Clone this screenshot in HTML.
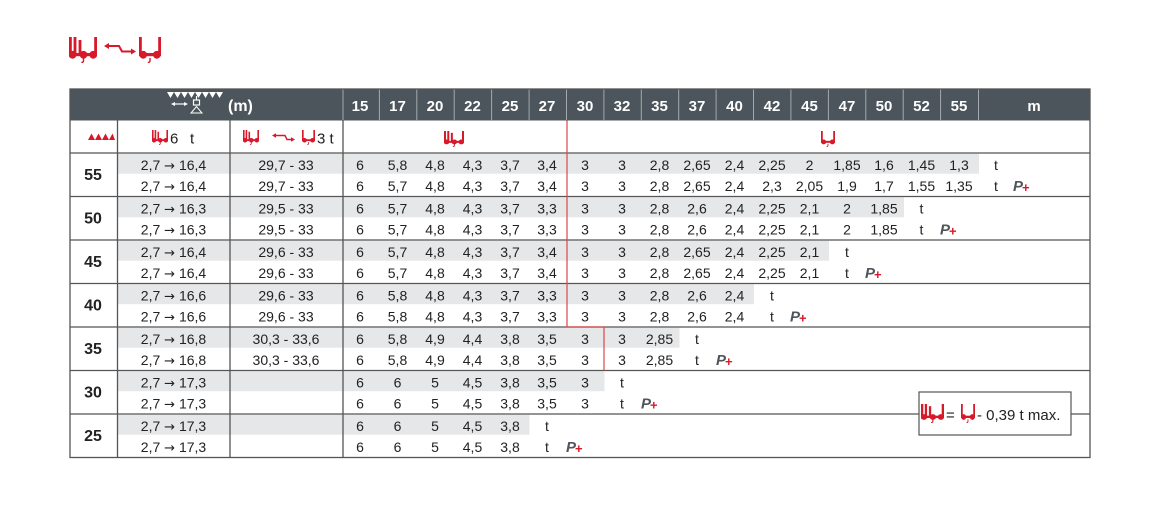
<!DOCTYPE html>
<html><head><meta charset="utf-8"><style>
html,body{margin:0;padding:0;background:#fff;}
svg{display:block;font-family:"Liberation Sans",Arial,sans-serif;}
</style></head><body>
<svg width="1171" height="523" viewBox="0 0 1171 523" xmlns="http://www.w3.org/2000/svg">
<defs>
<symbol id="dbl" viewBox="0 0 28 26" preserveAspectRatio="none">
<g fill="#d7192a">
<rect x="0" y="0" width="2.8" height="19"/>
<rect x="4.6" y="0" width="2.8" height="19"/>
<rect x="9.6" y="3" width="2.8" height="16"/>
<rect x="25.2" y="0" width="2.8" height="19"/>
<rect x="0" y="16" width="28" height="3.2"/>
<circle cx="3.6" cy="17.8" r="3.9"/>
<circle cx="14.5" cy="17.8" r="3.9"/>
<circle cx="24.2" cy="17.8" r="3.9"/>
</g>
<path d="M14.5 21 v2.5 q0 2 -2.2 2" fill="none" stroke="#d7192a" stroke-width="1.4"/>
</symbol>
<symbol id="sgl" viewBox="0 0 22 26" preserveAspectRatio="none">
<g fill="#d7192a">
<rect x="0" y="0" width="2.8" height="19"/>
<rect x="19.2" y="0" width="2.8" height="19"/>
<rect x="0" y="16" width="22" height="3.2"/>
<circle cx="4.2" cy="17.8" r="3.9"/>
<circle cx="17.8" cy="17.8" r="3.9"/>
</g>
<path d="M11 21 v2.5 q0 2 -2.2 2" fill="none" stroke="#d7192a" stroke-width="1.4"/>
</symbol>
</defs>

<!-- top icon -->
<use href="#dbl" x="69" y="37" width="28" height="26"/>
<path d="M108 46 H119 L122 51.5 H132" stroke="#d7192a" stroke-width="2" fill="none"/>
<polygon points="104,46 109,43 109,49" fill="#d7192a"/>
<polygon points="136,51.5 131,48.5 131,54.5" fill="#d7192a"/>
<use href="#sgl" x="139" y="37" width="22" height="26"/>

<!-- header row -->
<rect x="70" y="89" width="1020" height="31.5" fill="#4b555b"/>
<g stroke="#a3a9ad" stroke-width="1">
<line x1="343" y1="89" x2="343" y2="120"/>
<line x1="379.4" y1="89" x2="379.4" y2="120"/>
<line x1="416.8" y1="89" x2="416.8" y2="120"/>
<line x1="454.2" y1="89" x2="454.2" y2="120"/>
<line x1="491.6" y1="89" x2="491.6" y2="120"/>
<line x1="529.1" y1="89" x2="529.1" y2="120"/>
<line x1="566.5" y1="89" x2="566.5" y2="120"/>
<line x1="603.9" y1="89" x2="603.9" y2="120"/>
<line x1="641.3" y1="89" x2="641.3" y2="120"/>
<line x1="678.7" y1="89" x2="678.7" y2="120"/>
<line x1="716.1" y1="89" x2="716.1" y2="120"/>
<line x1="753.5" y1="89" x2="753.5" y2="120"/>
<line x1="790.9" y1="89" x2="790.9" y2="120"/>
<line x1="828.4" y1="89" x2="828.4" y2="120"/>
<line x1="865.8" y1="89" x2="865.8" y2="120"/>
<line x1="903.2" y1="89" x2="903.2" y2="120"/>
<line x1="940.6" y1="89" x2="940.6" y2="120"/>
<line x1="978.5" y1="89" x2="978.5" y2="120"/>
</g>
<!-- boom icon -->
<polygon points="167,92 223,92 219.5,98 216,92 212.5,98 209,92 205.5,98 202,92 198.5,98 195,92 191.5,98 188,92 184.5,98 181,92 177.5,98 174,92 170.5,98" fill="#fff"/>
<line x1="174" y1="104" x2="185" y2="104" stroke="#fff" stroke-width="1.2"/>
<polygon points="171,104 175,102 175,106" fill="#fff"/>
<polygon points="188,104 184,102 184,106" fill="#fff"/>
<line x1="196.5" y1="96" x2="196.5" y2="100" stroke="#fff" stroke-width="1.2"/>
<rect x="193.5" y="100" width="6" height="5" fill="none" stroke="#fff" stroke-width="1.2"/>
<polygon points="196.5,106.5 191,113 202,113" fill="none" stroke="#fff" stroke-width="1"/>
<text x="228" y="111" font-size="16" font-weight="bold" fill="#fff">(m)</text>
<g font-size="15" font-weight="bold" fill="#fff" text-anchor="middle">
<text y="111"><tspan x="360">15</tspan><tspan x="397.5">17</tspan><tspan x="435">20</tspan><tspan x="472.5">22</tspan><tspan x="510">25</tspan><tspan x="547">27</tspan><tspan x="585">30</tspan><tspan x="622">32</tspan><tspan x="659.5">35</tspan><tspan x="697">37</tspan><tspan x="734.5">40</tspan><tspan x="772">42</tspan><tspan x="809.5">45</tspan><tspan x="847">47</tspan><tspan x="884">50</tspan><tspan x="921.5">52</tspan><tspan x="959">55</tspan><tspan x="1034">m</tspan></text>
</g>

<!-- row 2 header -->
<polygon points="88,140 91.5,133.5 95,140 98.5,133.5 102,140 105.5,133.5 109,140 112.5,133.5 115,140" fill="#d7192a"/>
<use href="#dbl" x="152" y="130" width="16" height="15"/>
<text x="170" y="143.5" font-size="15" fill="#222">6</text>
<text x="190" y="143.5" font-size="15" fill="#222">t</text>
<use href="#dbl" x="243" y="130" width="16" height="15"/>
<path d="M275 135.5 H285 L287 139.5 H292" stroke="#d7192a" stroke-width="1.4" fill="none"/>
<polygon points="272,135.5 276,133.3 276,137.7" fill="#d7192a"/>
<polygon points="295,139.5 291,137.3 291,141.7" fill="#d7192a"/>
<use href="#sgl" x="302" y="130" width="13" height="15"/>
<text x="317" y="143.5" font-size="15" fill="#222">3 t</text>
<use href="#dbl" x="444" y="131" width="20" height="16"/>
<use href="#sgl" x="821" y="131" width="14" height="16"/>

<!-- gray bands -->
<g fill="#e6e7e8">
<rect x="118" y="153.7" width="861" height="20"/>
<rect x="118" y="197.2" width="786" height="20"/>
<rect x="118" y="240.7" width="711" height="20"/>
<rect x="118" y="284.2" width="636" height="20"/>
<rect x="118" y="327.7" width="561.5" height="20"/>
<rect x="118" y="371.2" width="486.5" height="20"/>
<rect x="118" y="414.7" width="411.5" height="20"/>
</g>

<!-- grid lines -->
<g stroke="#555" stroke-width="1.3">
<line x1="70" y1="153" x2="1090" y2="153"/>
<line x1="70" y1="196.5" x2="1090" y2="196.5"/>
<line x1="70" y1="240" x2="1090" y2="240"/>
<line x1="70" y1="283.5" x2="1090" y2="283.5"/>
<line x1="70" y1="327" x2="1090" y2="327"/>
<line x1="70" y1="370.5" x2="1090" y2="370.5"/>
<line x1="70" y1="414" x2="1090" y2="414"/>
<line x1="117.5" y1="120.5" x2="117.5" y2="457.5"/>
<line x1="230" y1="120.5" x2="230" y2="457.5"/>
<line x1="343" y1="120.5" x2="343" y2="457.5"/>
<rect x="70" y="89" width="1020" height="368.5" fill="none"/>
</g>

<!-- red boundary -->
<path d="M567 120.5 V327 H604 V370.5" fill="none" stroke="#d9484a" stroke-width="1.2"/>

<!-- group labels -->
<g font-size="16" font-weight="bold" fill="#222" text-anchor="middle">
<text x="93" y="180">55</text>
<text x="93" y="223.5">50</text>
<text x="93" y="267">45</text>
<text x="93" y="310.5">40</text>
<text x="93" y="354">35</text>
<text x="93" y="397.5">30</text>
<text x="93" y="441">25</text>
</g>

<g font-size="14" fill="#222" text-anchor="middle">
<!-- col 2 / col 3 -->
<text x="173.5" y="170">2,7 <tspan font-family="DejaVu Sans" font-size="13">→</tspan> 16,4</text><text x="286" y="170">29,7 - 33</text>
<text x="173.5" y="191">2,7 <tspan font-family="DejaVu Sans" font-size="13">→</tspan> 16,4</text><text x="286" y="191">29,7 - 33</text>
<text x="173.5" y="213.5">2,7 <tspan font-family="DejaVu Sans" font-size="13">→</tspan> 16,3</text><text x="286" y="213.5">29,5 - 33</text>
<text x="173.5" y="234.5">2,7 <tspan font-family="DejaVu Sans" font-size="13">→</tspan> 16,3</text><text x="286" y="234.5">29,5 - 33</text>
<text x="173.5" y="257">2,7 <tspan font-family="DejaVu Sans" font-size="13">→</tspan> 16,4</text><text x="286" y="257">29,6 - 33</text>
<text x="173.5" y="278">2,7 <tspan font-family="DejaVu Sans" font-size="13">→</tspan> 16,4</text><text x="286" y="278">29,6 - 33</text>
<text x="173.5" y="300.5">2,7 <tspan font-family="DejaVu Sans" font-size="13">→</tspan> 16,6</text><text x="286" y="300.5">29,6 - 33</text>
<text x="173.5" y="321.5">2,7 <tspan font-family="DejaVu Sans" font-size="13">→</tspan> 16,6</text><text x="286" y="321.5">29,6 - 33</text>
<text x="173.5" y="344">2,7 <tspan font-family="DejaVu Sans" font-size="13">→</tspan> 16,8</text><text x="286" y="344">30,3 - 33,6</text>
<text x="173.5" y="365">2,7 <tspan font-family="DejaVu Sans" font-size="13">→</tspan> 16,8</text><text x="286" y="365">30,3 - 33,6</text>
<text x="173.5" y="387.5">2,7 <tspan font-family="DejaVu Sans" font-size="13">→</tspan> 17,3</text>
<text x="173.5" y="408.5">2,7 <tspan font-family="DejaVu Sans" font-size="13">→</tspan> 17,3</text>
<text x="173.5" y="431">2,7 <tspan font-family="DejaVu Sans" font-size="13">→</tspan> 17,3</text>
<text x="173.5" y="452">2,7 <tspan font-family="DejaVu Sans" font-size="13">→</tspan> 17,3</text>

<!-- 55 -->
<text y="170"><tspan x="360">6</tspan><tspan x="397.5">5,8</tspan><tspan x="435">4,8</tspan><tspan x="472.5">4,3</tspan><tspan x="510">3,7</tspan><tspan x="547">3,4</tspan><tspan x="585">3</tspan><tspan x="622">3</tspan><tspan x="659.5">2,8</tspan><tspan x="697">2,65</tspan><tspan x="734.5">2,4</tspan><tspan x="772">2,25</tspan><tspan x="809.5">2</tspan><tspan x="847">1,85</tspan><tspan x="884">1,6</tspan><tspan x="921.5">1,45</tspan><tspan x="959">1,3</tspan><tspan x="996">t</tspan></text>
<text y="191"><tspan x="360">6</tspan><tspan x="397.5">5,7</tspan><tspan x="435">4,8</tspan><tspan x="472.5">4,3</tspan><tspan x="510">3,7</tspan><tspan x="547">3,4</tspan><tspan x="585">3</tspan><tspan x="622">3</tspan><tspan x="659.5">2,8</tspan><tspan x="697">2,65</tspan><tspan x="734.5">2,4</tspan><tspan x="772">2,3</tspan><tspan x="809.5">2,05</tspan><tspan x="847">1,9</tspan><tspan x="884">1,7</tspan><tspan x="921.5">1,55</tspan><tspan x="959">1,35</tspan><tspan x="996">t</tspan></text>
<!-- 50 -->
<text y="213.5"><tspan x="360">6</tspan><tspan x="397.5">5,7</tspan><tspan x="435">4,8</tspan><tspan x="472.5">4,3</tspan><tspan x="510">3,7</tspan><tspan x="547">3,3</tspan><tspan x="585">3</tspan><tspan x="622">3</tspan><tspan x="659.5">2,8</tspan><tspan x="697">2,6</tspan><tspan x="734.5">2,4</tspan><tspan x="772">2,25</tspan><tspan x="809.5">2,1</tspan><tspan x="847">2</tspan><tspan x="884">1,85</tspan><tspan x="921.5">t</tspan></text>
<text y="234.5"><tspan x="360">6</tspan><tspan x="397.5">5,7</tspan><tspan x="435">4,8</tspan><tspan x="472.5">4,3</tspan><tspan x="510">3,7</tspan><tspan x="547">3,3</tspan><tspan x="585">3</tspan><tspan x="622">3</tspan><tspan x="659.5">2,8</tspan><tspan x="697">2,6</tspan><tspan x="734.5">2,4</tspan><tspan x="772">2,25</tspan><tspan x="809.5">2,1</tspan><tspan x="847">2</tspan><tspan x="884">1,85</tspan><tspan x="921.5">t</tspan></text>
<!-- 45 -->
<text y="257"><tspan x="360">6</tspan><tspan x="397.5">5,7</tspan><tspan x="435">4,8</tspan><tspan x="472.5">4,3</tspan><tspan x="510">3,7</tspan><tspan x="547">3,4</tspan><tspan x="585">3</tspan><tspan x="622">3</tspan><tspan x="659.5">2,8</tspan><tspan x="697">2,65</tspan><tspan x="734.5">2,4</tspan><tspan x="772">2,25</tspan><tspan x="809.5">2,1</tspan><tspan x="847">t</tspan></text>
<text y="278"><tspan x="360">6</tspan><tspan x="397.5">5,7</tspan><tspan x="435">4,8</tspan><tspan x="472.5">4,3</tspan><tspan x="510">3,7</tspan><tspan x="547">3,4</tspan><tspan x="585">3</tspan><tspan x="622">3</tspan><tspan x="659.5">2,8</tspan><tspan x="697">2,65</tspan><tspan x="734.5">2,4</tspan><tspan x="772">2,25</tspan><tspan x="809.5">2,1</tspan><tspan x="847">t</tspan></text>
<!-- 40 -->
<text y="300.5"><tspan x="360">6</tspan><tspan x="397.5">5,8</tspan><tspan x="435">4,8</tspan><tspan x="472.5">4,3</tspan><tspan x="510">3,7</tspan><tspan x="547">3,3</tspan><tspan x="585">3</tspan><tspan x="622">3</tspan><tspan x="659.5">2,8</tspan><tspan x="697">2,6</tspan><tspan x="734.5">2,4</tspan><tspan x="772">t</tspan></text>
<text y="321.5"><tspan x="360">6</tspan><tspan x="397.5">5,8</tspan><tspan x="435">4,8</tspan><tspan x="472.5">4,3</tspan><tspan x="510">3,7</tspan><tspan x="547">3,3</tspan><tspan x="585">3</tspan><tspan x="622">3</tspan><tspan x="659.5">2,8</tspan><tspan x="697">2,6</tspan><tspan x="734.5">2,4</tspan><tspan x="772">t</tspan></text>
<!-- 35 -->
<text y="344"><tspan x="360">6</tspan><tspan x="397.5">5,8</tspan><tspan x="435">4,9</tspan><tspan x="472.5">4,4</tspan><tspan x="510">3,8</tspan><tspan x="547">3,5</tspan><tspan x="585">3</tspan><tspan x="622">3</tspan><tspan x="659.5">2,85</tspan><tspan x="697">t</tspan></text>
<text y="365"><tspan x="360">6</tspan><tspan x="397.5">5,8</tspan><tspan x="435">4,9</tspan><tspan x="472.5">4,4</tspan><tspan x="510">3,8</tspan><tspan x="547">3,5</tspan><tspan x="585">3</tspan><tspan x="622">3</tspan><tspan x="659.5">2,85</tspan><tspan x="697">t</tspan></text>
<!-- 30 -->
<text y="387.5"><tspan x="360">6</tspan><tspan x="397.5">6</tspan><tspan x="435">5</tspan><tspan x="472.5">4,5</tspan><tspan x="510">3,8</tspan><tspan x="547">3,5</tspan><tspan x="585">3</tspan><tspan x="622">t</tspan></text>
<text y="408.5"><tspan x="360">6</tspan><tspan x="397.5">6</tspan><tspan x="435">5</tspan><tspan x="472.5">4,5</tspan><tspan x="510">3,8</tspan><tspan x="547">3,5</tspan><tspan x="585">3</tspan><tspan x="622">t</tspan></text>
<!-- 25 -->
<text y="431"><tspan x="360">6</tspan><tspan x="397.5">6</tspan><tspan x="435">5</tspan><tspan x="472.5">4,5</tspan><tspan x="510">3,8</tspan><tspan x="547">t</tspan></text>
<text y="452"><tspan x="360">6</tspan><tspan x="397.5">6</tspan><tspan x="435">5</tspan><tspan x="472.5">4,5</tspan><tspan x="510">3,8</tspan><tspan x="547">t</tspan></text>
</g>

<!-- P+ marks -->
<g>
<text x="1013" y="191" font-size="15" font-weight="bold" font-style="italic" fill="#4f555a">P</text><text x="1022" y="192" font-size="13" font-weight="bold" fill="#d7192a">+</text>
<text x="940" y="234.5" font-size="15" font-weight="bold" font-style="italic" fill="#4f555a">P</text><text x="949" y="235.5" font-size="13" font-weight="bold" fill="#d7192a">+</text>
<text x="865" y="278" font-size="15" font-weight="bold" font-style="italic" fill="#4f555a">P</text><text x="874" y="279" font-size="13" font-weight="bold" fill="#d7192a">+</text>
<text x="790" y="321.5" font-size="15" font-weight="bold" font-style="italic" fill="#4f555a">P</text><text x="799" y="322.5" font-size="13" font-weight="bold" fill="#d7192a">+</text>
<text x="716" y="365" font-size="15" font-weight="bold" font-style="italic" fill="#4f555a">P</text><text x="725" y="366" font-size="13" font-weight="bold" fill="#d7192a">+</text>
<text x="641" y="408.5" font-size="15" font-weight="bold" font-style="italic" fill="#4f555a">P</text><text x="650" y="409.5" font-size="13" font-weight="bold" fill="#d7192a">+</text>
<text x="566" y="452" font-size="15" font-weight="bold" font-style="italic" fill="#4f555a">P</text><text x="575" y="453" font-size="13" font-weight="bold" fill="#d7192a">+</text>
</g>

<!-- legend box -->
<rect x="919" y="392" width="152" height="43" fill="#fff" stroke="#555" stroke-width="1.2"/>
<use href="#dbl" x="921" y="404" width="23" height="19"/>
<text x="946" y="420" font-size="15" fill="#222">=</text>
<use href="#sgl" x="961" y="404" width="14" height="19"/>
<text x="977" y="420" font-size="15" fill="#222">- 0,39 t max.</text>
</svg>
</body></html>
